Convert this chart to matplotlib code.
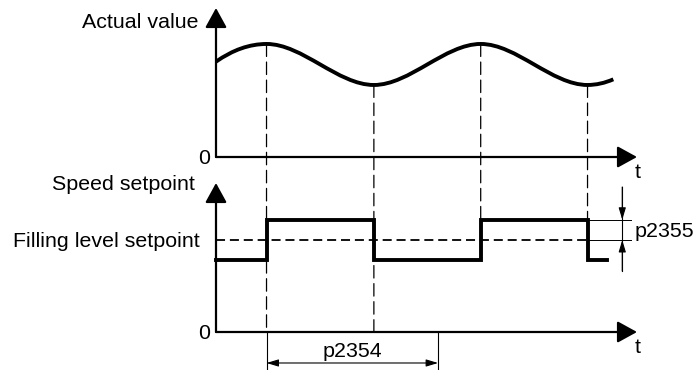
import matplotlib
matplotlib.use('Agg')
import matplotlib.pyplot as plt
from matplotlib.path import Path
from matplotlib.patches import PathPatch, ConnectionPatch

plt.rcParams['font.family'] = ['Liberation Sans', 'DejaVu Sans']
plt.rcParams['lines.scale_dashes'] = False

# values (time in arbitrary units, amplitude in arbitrary units)
actual_t = [0.0, 0.48, 1.50, 2.515, 3.53, 3.775]
actual_v = [0.96, 1.138, 0.725, 1.138, 0.725, 0.782]

setpoint_t = [0.0, 0.48, 1.50, 2.515, 3.53, 3.718]
setpoint_v = [0.725, 1.13, 0.725, 1.13, 0.725, 0.725]

filling_level = 0.926
p2354_span = [0.48, 2.11]
p2355_t = 3.86

top_label = 'Actual value'
bot_label = 'Speed setpoint'
level_label = 'Filling level setpoint'
time_label = 't'

FS = 15.4
W, H = 694, 370

fig = plt.figure(figsize=(W / 100, H / 100), dpi=100)
ax_top = fig.add_axes([216 / W, (H - 157) / H, 421 / W, 149 / H])
ax_bot = fig.add_axes([216 / W, (H - 332) / H, 421 / W, 149 / H])

for ax in (ax_top, ax_bot):
    ax.set_xlim(0, 4.0)
    ax.set_ylim(0, 1.5)
    ax.axis('off')
    # axes drawn as arrows
    big = dict(arrowstyle='-|>,head_length=1.0,head_width=0.55', mutation_scale=12,
               lw=1.6, color='black', shrinkA=0, shrinkB=0)
    ax.annotate('', xy=(1, 0), xytext=(0, 0), xycoords='axes fraction', arrowprops=big)
    ax.annotate('', xy=(0, 1), xytext=(0, 0), xycoords='axes fraction', arrowprops=big)
    ax.text(-0.057, -0.07, '0', fontsize=FS, ha='right', va='baseline')
    ax.text(3.98, -0.211, time_label, fontsize=FS, ha='left', va='baseline')

# actual value: smooth curve through the read extrema
verts = [(actual_t[0], actual_v[0])]
codes = [Path.MOVETO]
n = len(actual_t)
for i in range(n - 1):
    t0, v0 = actual_t[i], actual_v[i]
    t1, v1 = actual_t[i + 1], actual_v[i + 1]
    dt = t1 - t0
    if i == 0:
        verts += [(t0 + dt / 2, v1), (t1, v1)]
        codes += [Path.CURVE3] * 2
    elif i == n - 2:
        verts += [(t0 + dt / 2, v0), (t1, v1)]
        codes += [Path.CURVE3] * 2
    else:
        verts += [(t0 + dt / 3, v0), (t1 - dt / 3, v1), (t1, v1)]
        codes += [Path.CURVE4] * 3
ax_top.add_patch(PathPatch(Path(verts, codes), fill=False, lw=2.8, color='black',
                           capstyle='butt'))
ax_top.text(-0.162, 1.296, top_label, fontsize=FS, ha='right', va='baseline')

# speed setpoint
ax_bot.plot(setpoint_t, setpoint_v, drawstyle='steps-post', color='black', lw=2.8,
            solid_joinstyle='miter', clip_on=False)
ax_bot.plot([0, setpoint_t[4]], [filling_level, filling_level], color='black', lw=1.3,
            dashes=(6.5, 3.5))
ax_bot.plot([setpoint_t[4], 3.94], [filling_level, filling_level], color='black', lw=0.7,
            clip_on=False)
ax_bot.plot([setpoint_t[4], 3.94], [setpoint_v[3], setpoint_v[3]], color='black', lw=0.7,
            clip_on=False)
ax_bot.text(-0.2, 1.43, bot_label, fontsize=FS, ha='right', va='baseline')
ax_bot.text(-0.152, 0.859, level_label, fontsize=FS, ha='right', va='baseline')

# dashed guide lines between actual value extrema and setpoint
ends = [-0.0, 0.0, setpoint_v[3], setpoint_v[3]]
for i in range(1, 5):
    con = ConnectionPatch(xyA=(actual_t[i], actual_v[i]), coordsA=ax_top.transData,
                          xyB=(actual_t[i], ends[i - 1]), coordsB=ax_bot.transData,
                          color='black', lw=0.9, linestyle=(0, (9, 4)))
    fig.add_artist(con)

# p2354 dimension
small2 = dict(arrowstyle='<|-|>,head_length=0.9,head_width=0.27', mutation_scale=8,
              lw=0.8, color='black', shrinkA=0, shrinkB=0)
for t in p2354_span:
    ax_bot.plot([t, t], [0, -0.4], color='black', lw=0.8, clip_on=False)
ax_bot.annotate('', xy=(p2354_span[1], -0.312), xytext=(p2354_span[0], -0.312),
                arrowprops=small2, annotation_clip=False)
ax_bot.text(sum(p2354_span) / 2, -0.252, 'p2354', fontsize=FS, ha='center', va='baseline')

# p2355 dimension
small = dict(arrowstyle='-|>,head_length=0.9,head_width=0.27', mutation_scale=8,
             lw=0.8, color='black', shrinkA=0, shrinkB=0)
ax_bot.plot([p2355_t, p2355_t], [0.614, 1.46], color='black', lw=0.8, clip_on=False)
ax_bot.annotate('', xy=(p2355_t, setpoint_v[3]), xytext=(p2355_t, 1.46),
                arrowprops=small, annotation_clip=False)
ax_bot.annotate('', xy=(p2355_t, filling_level), xytext=(p2355_t, 0.614),
                arrowprops=small, annotation_clip=False)
ax_bot.text(3.98, 0.956, 'p2355', fontsize=FS, ha='left', va='baseline')

fig.savefig('out.png', dpi=100)
